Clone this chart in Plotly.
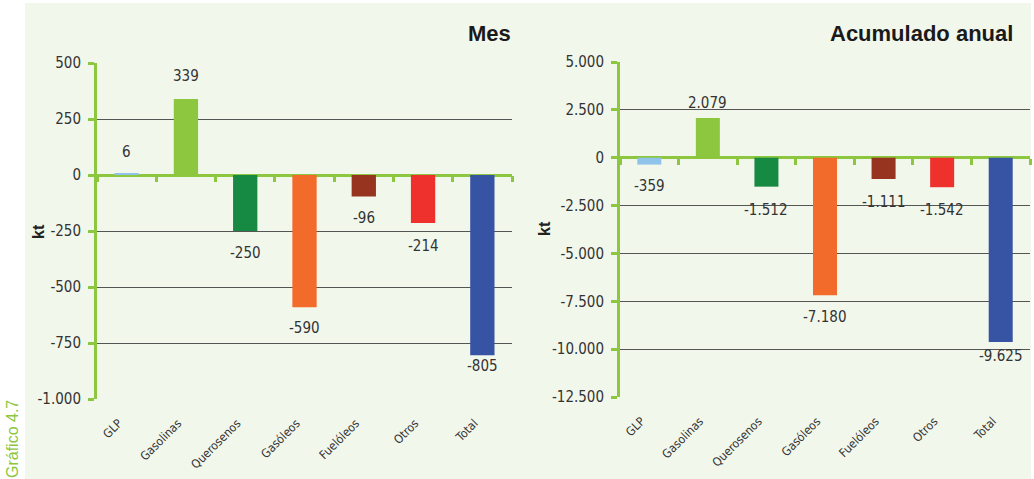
import plotly.graph_objects as go

categories = ["GLP", "Gasolinas", "Querosenos", "Gasóleos", "Fuelóleos", "Otros", "Total"]
mes_values = [6, 339, -250, -590, -96, -214, -805]
anual_values = [-359, 2079, -1512, -7180, -1111, -1542, -9625]
mes_ticks = [-1000, -750, -500, -250, 0, 250, 500]
anual_ticks = [-12500, -10000, -7500, -5000, -2500, 0, 2500, 5000]
bar_colors = ["#8fc3ea", "#8dc63f", "#168a43", "#f26b2b", "#96341f", "#ee312c", "#3753a4"]

# label pixel offsets (styling)
mes_shift = [22, 23, -22, -21, -22, -23, -11]
anual_shift = [-21, 15, -23, -22, -23, -23, -14]

W, H = 1034, 479
GREEN = "#8dc63f"
TXT = "#333333"
NARROW = "DejaVu Sans Condensed, Liberation Sans Narrow, Arial Narrow, sans-serif"
BOLD = "Liberation Sans, Arial, sans-serif"


def fmt(v):
    s = f"{abs(v):,}".replace(",", ".")
    return ("-" + s) if v < 0 else s


def px_x(p):
    return p / W


def px_y(p):
    return (H - p) / H


left_dom_x = [px_x(97), px_x(512)]
left_dom_y = [px_y(399), px_y(63)]
right_dom_x = [px_x(620), px_x(1030)]
right_dom_y = [px_y(397), px_y(62)]
mes_range = [mes_ticks[0], mes_ticks[-1]]
anual_range = [anual_ticks[0], anual_ticks[-1]]


def zero_pos(dom, rng):
    return dom[0] + (0 - rng[0]) / (rng[1] - rng[0]) * (dom[1] - dom[0])


fig = go.Figure()
fig.add_trace(go.Bar(x=categories, y=mes_values, marker=dict(color=bar_colors, line=dict(width=0)),
                     xaxis="x", yaxis="y", showlegend=False))
fig.add_trace(go.Bar(x=categories, y=anual_values, marker=dict(color=bar_colors, line=dict(width=0)),
                     xaxis="x2", yaxis="y2", showlegend=False))
# helper traces for the tick-mark axes at zero
fig.add_trace(go.Scatter(x=[None], y=[None], xaxis="x3", yaxis="y", showlegend=False, hoverinfo="skip"))
fig.add_trace(go.Scatter(x=[None], y=[None], xaxis="x4", yaxis="y2", showlegend=False, hoverinfo="skip"))

n = len(categories)
bounds = [i - 0.5 for i in range(n + 1)]

cat_axis = dict(type="category", showgrid=False, showline=False, zeroline=False, ticks="",
                tickangle=-45, tickfont=dict(family=NARROW, size=12, color=TXT),
                range=[-0.5, n - 0.5], ticklabelstandoff=14, ticklabelshift=-8,
                fixedrange=True, automargin=False)

tick_axis = dict(type="linear", range=[-0.5, n - 0.5], tickvals=bounds, showticklabels=False,
                 ticks="outside", ticklen=6, tickwidth=3, tickcolor=GREEN, showgrid=False,
                 zeroline=False, showline=False, anchor="free", automargin=False)

y_common = dict(showgrid=True, gridcolor="#555555", gridwidth=1.2, zeroline=True,
                zerolinecolor=GREEN, zerolinewidth=3, showline=True, linecolor=GREEN, linewidth=3,
                ticks="outside", ticklen=6, tickwidth=3, tickcolor=GREEN, automargin=False,
                tickfont=dict(family=NARROW, size=15, color=TXT), ticklabelstandoff=4)

fig.update_layout(
    width=W, height=H,
    margin=dict(l=0, r=0, t=0, b=0, pad=0, autoexpand=False),
    paper_bgcolor="white", plot_bgcolor="rgba(0,0,0,0)",
    bargap=0.59, showlegend=False,
    xaxis=dict(domain=left_dom_x, anchor="y", **cat_axis),
    xaxis2=dict(domain=right_dom_x, anchor="y2", **cat_axis),
    xaxis3=dict(**tick_axis, overlaying="x", domain=left_dom_x,
                position=zero_pos(left_dom_y, mes_range)),
    xaxis4=dict(**tick_axis, overlaying="x2", domain=right_dom_x,
                position=zero_pos(right_dom_y, anual_range)),
    yaxis=dict(domain=left_dom_y, anchor="x", range=mes_range, tickvals=mes_ticks,
               ticktext=[fmt(v) for v in mes_ticks], **y_common),
    yaxis2=dict(domain=right_dom_y, anchor="x2", range=anual_range, tickvals=anual_ticks,
                ticktext=[fmt(v) for v in anual_ticks], **y_common),
    shapes=[dict(type="rect", xref="paper", yref="paper", x0=px_x(25), x1=px_x(1031),
                 y0=0, y1=px_y(3), fillcolor="#f2f7ec", line=dict(width=0), layer="below")],
)

annotations = []
for c, v, s in zip(categories, mes_values, mes_shift):
    annotations.append(dict(x=c, y=v, xref="x", yref="y", text=fmt(v), showarrow=False,
                            yshift=s, yanchor="middle",
                            font=dict(family=NARROW, size=15, color=TXT)))
for c, v, s in zip(categories, anual_values, anual_shift):
    annotations.append(dict(x=c, y=v, xref="x2", yref="y2", text=fmt(v), showarrow=False,
                            yshift=s, yanchor="middle",
                            font=dict(family=NARROW, size=15, color=TXT)))
annotations.append(dict(x=px_x(513), y=px_y(33), xref="paper", yref="paper", text="<b>Mes</b>",
                        showarrow=False, xanchor="right", yanchor="middle",
                        font=dict(family=BOLD, size=22, color="#1a1a1a")))
annotations.append(dict(x=px_x(1015), y=px_y(33), xref="paper", yref="paper",
                        text="<b>Acumulado anual</b>", showarrow=False, xanchor="right",
                        yanchor="middle", font=dict(family=BOLD, size=22, color="#1a1a1a")))
for xp, yp in [(38, 232), (545, 229)]:
    annotations.append(dict(x=px_x(xp), y=px_y(yp), xref="paper", yref="paper", text="<b>kt</b>",
                            showarrow=False, textangle=-90, xanchor="center", yanchor="middle",
                            font=dict(family=BOLD, size=16, color="#222222")))
annotations.append(dict(x=px_x(12), y=px_y(439), xref="paper", yref="paper", text="Gráfico 4.7",
                        showarrow=False, textangle=-90, xanchor="center", yanchor="middle",
                        font=dict(family="Liberation Sans, Arial, sans-serif", size=16, color=GREEN)))
fig.update_layout(annotations=annotations)

fig.write_html("out.html", config={"displayModeBar": False},
               post_script="document.body.style.margin='0px';")
